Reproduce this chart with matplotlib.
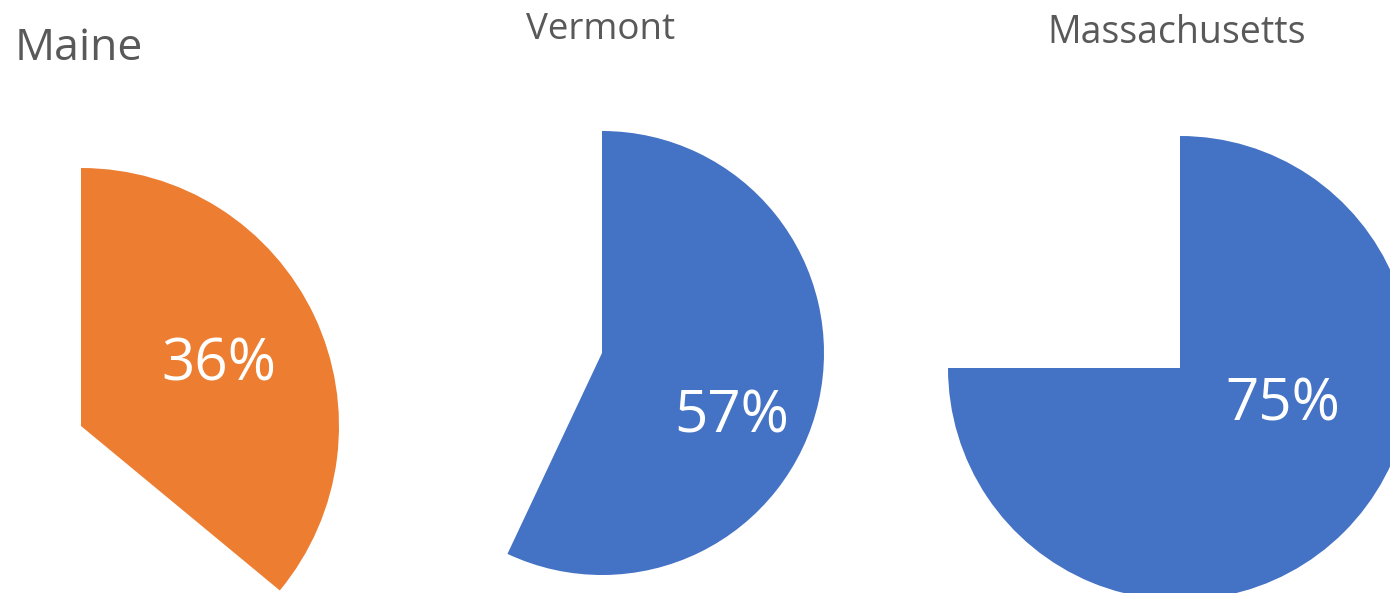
import matplotlib
matplotlib.use("Agg")
import matplotlib.pyplot as plt

plt.rcParams['font.family'] = ['Open Sans', 'DejaVu Sans']

states = ["Maine", "Vermont", "Massachusetts"]
shares = [36, 57, 75]
colors = ["#ED7D31", "#4472C4", "#4472C4"]

W, H = 1390, 593
fig = plt.figure(figsize=(W / 100, H / 100), dpi=100)
fig.patch.set_facecolor("white")

# layout in pixels: (center x, center y, radius)
geom = [(81, 426, 258), (602, 353, 222), (1180, 368, 232)]
title_pos = [(79, 49, 32), (601, 30, 26.5), (1177, 33, 27)]
label_pos = [(219, 365), (732, 417), (1283, 405)]

for i, (name, val, col) in enumerate(zip(states, shares, colors)):
    cx, cy, r = geom[i]
    ax = fig.add_axes([(cx - r) / W, (H - cy - r) / H, 2 * r / W, 2 * r / H])
    ax.pie([val, 100 - val], colors=[col, "none"], startangle=90,
           counterclock=False, radius=1.0,
           wedgeprops=dict(linewidth=0, edgecolor="none"))
    ax.set_xlim(-1, 1)
    ax.set_ylim(-1, 1)
    ax.set_aspect("equal")
    ax.axis("off")
    ax.patch.set_alpha(0)
    tx, ty, fs = title_pos[i]
    fig.text(tx / W, 1 - ty / H, name, ha="center", va="center",
             fontsize=fs, color="#595959")
    lx, ly = label_pos[i]
    fig.text(lx / W, 1 - ly / H, f"{val}%", ha="center", va="center",
             fontsize=42, color="white")

fig.savefig("out.png", dpi=100, facecolor="white")
